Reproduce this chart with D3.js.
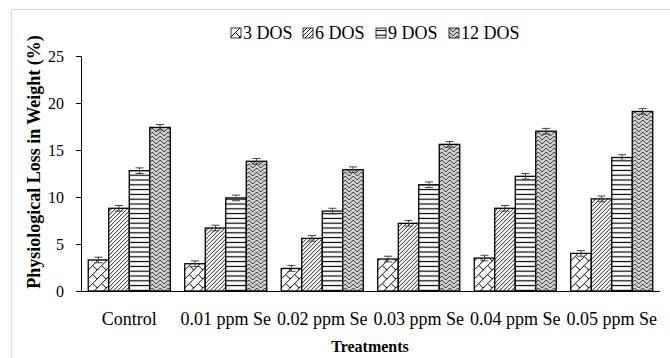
<!DOCTYPE html>
<html><head><meta charset="utf-8">
<script src="https://cdn.jsdelivr.net/npm/d3@7/dist/d3.min.js"></script>
<style>
html,body{margin:0;padding:0;background:#fff;}
svg{display:block;}
svg text{font-family:"Liberation Serif","Times New Roman",serif;}
</style></head>
<body>
<svg id="chart" width="670" height="358"></svg>
<script>
const categories = ["Control","0.01 ppm Se","0.02 ppm Se","0.03 ppm Se","0.04 ppm Se","0.05 ppm Se"];
const seriesNames = ["3 DOS","6 DOS","9 DOS","12 DOS"];
const dos3  = [3.3, 2.9, 2.4, 3.4, 3.5, 4.0];
const dos6  = [8.8, 6.7, 5.6, 7.2, 8.8, 9.8];
const dos9  = [12.8, 9.9, 8.5, 11.3, 12.2, 14.2];
const dos12 = [17.4, 13.8, 12.9, 15.6, 17.0, 19.1];
const err3  = [0.3, 0.3, 0.3, 0.3, 0.3, 0.3];
const err6  = [0.3, 0.3, 0.3, 0.3, 0.3, 0.3];
const err9  = [0.3, 0.3, 0.3, 0.3, 0.3, 0.3];
const err12 = [0.3, 0.3, 0.3, 0.3, 0.3, 0.3];
const yTicks = [0, 5, 10, 15, 20, 25];

const seriesValues = [dos3, dos6, dos9, dos12];
const seriesErrors = [err3, err6, err9, err12];
const patternIds = ["p3","p6","p9","p12"];
const SERIF = "Liberation Serif, Times New Roman, serif";

const svg = d3.select("#chart");
const defs = svg.append("defs");

// 3 DOS: diagonal brick
let p = defs.append("pattern").attr("id","p3").attr("patternUnits","userSpaceOnUse")
  .attr("width",9).attr("height",9);
p.append("rect").attr("width",9).attr("height",9).attr("fill","#fff");
p.append("path").attr("d","M-1,10 L10,-1 M4.5,4.5 L9,9").attr("stroke","#000").attr("stroke-width",1).attr("fill","none");

// 6 DOS: dense upward diagonal
p = defs.append("pattern").attr("id","p6").attr("patternUnits","userSpaceOnUse")
  .attr("width",4).attr("height",4);
p.append("rect").attr("width",4).attr("height",4).attr("fill","#fff");
p.append("path").attr("d","M0,4 L4,0 M-1,1 L1,-1 M3,5 L5,3").attr("stroke","#000").attr("stroke-width",0.9).attr("fill","none");

// 9 DOS: horizontal lines
p = defs.append("pattern").attr("id","p9").attr("patternUnits","userSpaceOnUse")
  .attr("width",8).attr("height",4.8);
p.append("rect").attr("width",8).attr("height",4.8).attr("fill","#fff");
p.append("path").attr("d","M0,2.4 L8,2.4").attr("stroke","#000").attr("stroke-width",1.2);

// 12 DOS: grey weave / zigzag
p = defs.append("pattern").attr("id","p12").attr("patternUnits","userSpaceOnUse")
  .attr("width",8).attr("height",8);
p.append("rect").attr("width",8).attr("height",8).attr("fill","#d0d0d0");
p.append("path").attr("d","M0,0 L4,4 L8,0 M0,4 L2,6 M6,6 L8,4 M2,6 L4,8 M6,6 L4,8")
  .attr("stroke","#3a3a3a").attr("stroke-width",1).attr("fill","none");

// frame
svg.append("rect").attr("x",11.5).attr("y",9.5).attr("width",700).attr("height",400)
  .attr("fill","none").attr("stroke","#d9d9d9").attr("stroke-width",1);

const x0 = d3.scaleBand().domain(categories).range([81, 660]).paddingInner(0.15).paddingOuter(0.075);
const x1 = d3.scaleBand().domain(seriesNames).range([0, x0.bandwidth()]).padding(0);
const y = d3.scaleLinear().domain([0, 25]).range([291, 56]);

// y axis
const yAxis = d3.axisLeft(y).tickValues(yTicks).tickSize(5).tickPadding(12);
const gy = svg.append("g").attr("transform","translate(81,0)").call(yAxis)
  .attr("font-family", SERIF).attr("font-size", 16);
gy.select(".domain").attr("stroke","#000").attr("stroke-width",1);
gy.selectAll(".tick line").attr("stroke","#000");
gy.selectAll(".tick text").attr("font-size",16).attr("fill","#000")
  .style("font-family", SERIF);

// bars
const groups = svg.append("g").selectAll("g").data(categories).join("g")
  .attr("transform", c => `translate(${x0(c)},0)`);

seriesNames.forEach((s, si) => {
  groups.append("rect")
    .attr("x", x1(s))
    .attr("y", (c, ci) => y(seriesValues[si][ci]))
    .attr("width", x1.bandwidth())
    .attr("height", (c, ci) => y(0) - y(seriesValues[si][ci]))
    .attr("fill", `url(#${patternIds[si]})`)
    .attr("stroke", "#000").attr("stroke-width", 1.3);
});

// error bars
seriesNames.forEach((s, si) => {
  const cx = x1(s) + x1.bandwidth() / 2;
  const eb = groups.append("g").attr("stroke","#444").attr("stroke-width",1).attr("fill","none");
  eb.append("line").attr("x1",cx).attr("x2",cx)
    .attr("y1",(c,ci)=>y(seriesValues[si][ci]+seriesErrors[si][ci]))
    .attr("y2",(c,ci)=>y(seriesValues[si][ci]-seriesErrors[si][ci]));
  eb.append("line").attr("x1",cx-4).attr("x2",cx+4)
    .attr("y1",(c,ci)=>y(seriesValues[si][ci]+seriesErrors[si][ci]))
    .attr("y2",(c,ci)=>y(seriesValues[si][ci]+seriesErrors[si][ci]));
  eb.append("line").attr("x1",cx-4).attr("x2",cx+4)
    .attr("y1",(c,ci)=>y(seriesValues[si][ci]-seriesErrors[si][ci]))
    .attr("y2",(c,ci)=>y(seriesValues[si][ci]-seriesErrors[si][ci]));
});

// x axis
const xAxis = d3.axisBottom(x0).tickSize(0).tickPadding(0);
const gx = svg.append("g").attr("transform","translate(0,291)").call(xAxis)
  .attr("font-family", SERIF).attr("font-size", 18);
gx.select(".domain").attr("stroke","#000").attr("stroke-width",1).attr("d","M81,0.5H660");
gx.selectAll(".tick text").attr("font-size",18).attr("fill","#000").attr("dy",null)
  .attr("y",34).style("font-family", SERIF);

// axis titles
svg.append("text").attr("x",370).attr("y",352).attr("text-anchor","middle")
  .style("font-family", SERIF)
  .attr("font-size",16).attr("font-weight","bold").text("Treatments");
svg.append("text").attr("transform","translate(40,162) rotate(-90)").attr("text-anchor","middle")
  .style("font-family", SERIF)
  .attr("font-size",18).attr("font-weight","bold").text("Physiological Loss in Weight (%)");

// legend
const legendX = [231, 303, 376, 449];
const lg = svg.append("g").selectAll("g").data(seriesNames).join("g")
  .attr("transform",(d,i)=>`translate(${legendX[i]},28)`);
lg.append("rect").attr("width",10).attr("height",10)
  .attr("fill",(d,i)=>`url(#${patternIds[i]})`).attr("stroke","#000").attr("stroke-width",0.8);
lg.append("text").attr("x",12).attr("y",11).attr("font-size",18)
  .style("font-family", SERIF).text(d=>d);
</script>
</body></html>
